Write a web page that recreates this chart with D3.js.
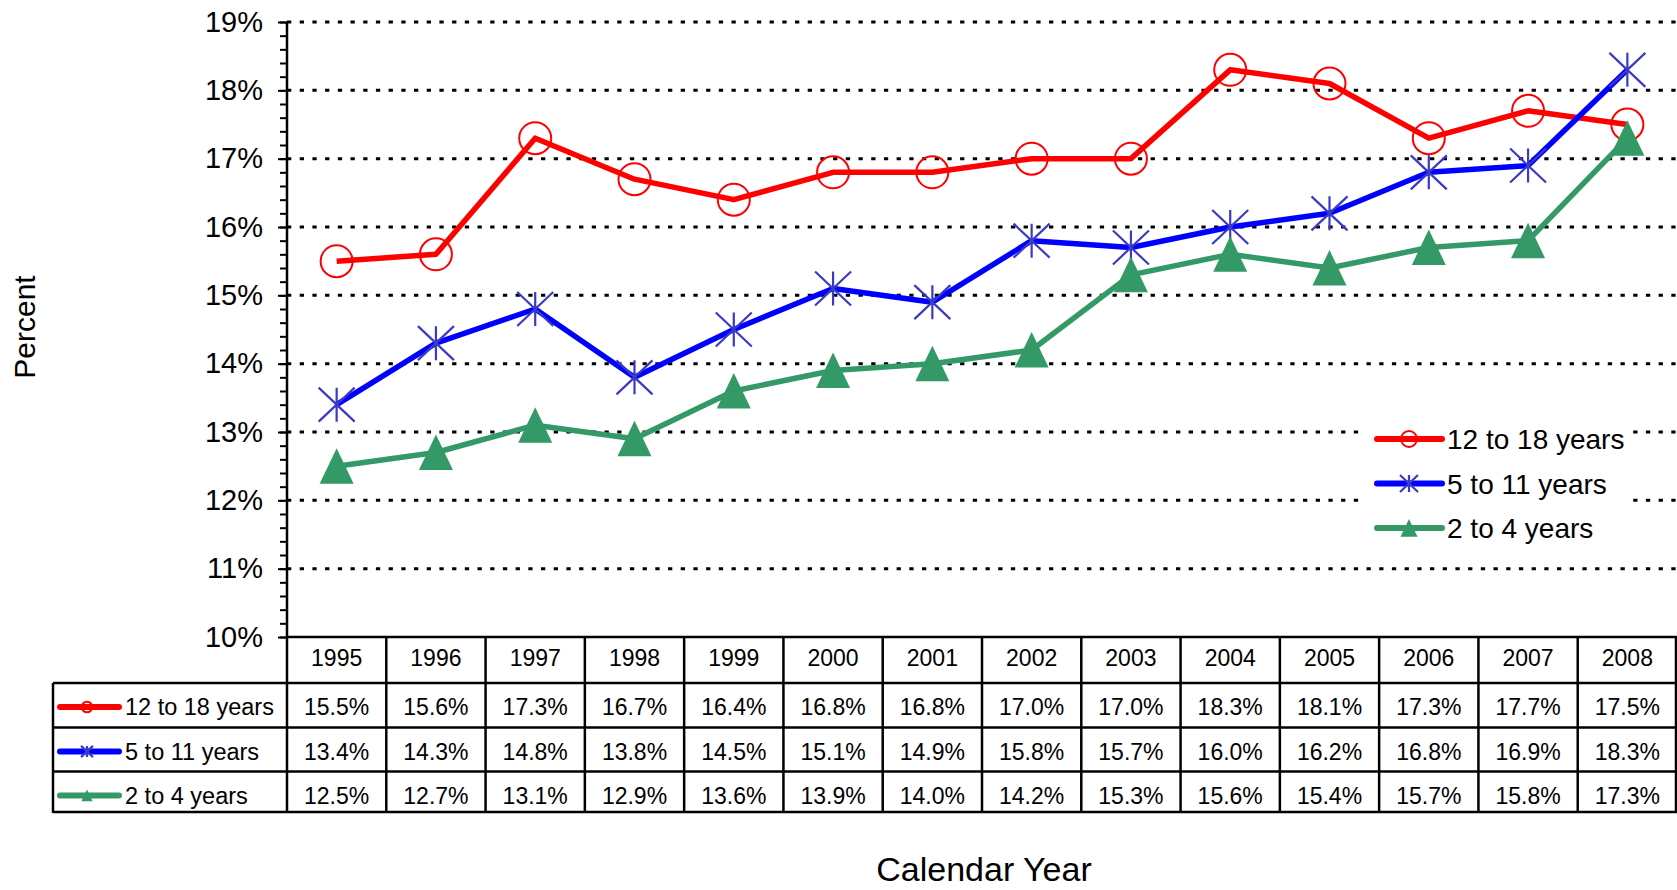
<!DOCTYPE html>
<html>
<head>
<meta charset="utf-8">
<script src="https://cdn.jsdelivr.net/npm/d3@7"></script>
<style>
  body { margin: 0; background: #fff; }
  svg text { font-family: "Liberation Sans", Arial, sans-serif; fill: #000; }
</style>
</head>
<body>
<svg id="chart" width="1677" height="890"></svg>
<script>
// data
var years = [1995, 1996, 1997, 1998, 1999, 2000, 2001, 2002, 2003, 2004, 2005, 2006, 2007, 2008];
var teens = [15.5, 15.6, 17.3, 16.7, 16.4, 16.8, 16.8, 17.0, 17.0, 18.3, 18.1, 17.3, 17.7, 17.5];
var kids = [13.4, 14.3, 14.8, 13.8, 14.5, 15.1, 14.9, 15.8, 15.7, 16.0, 16.2, 16.8, 16.9, 18.3];
var toddlers = [12.5, 12.7, 13.1, 12.9, 13.6, 13.9, 14.0, 14.2, 15.3, 15.6, 15.4, 15.7, 15.8, 17.3];
var seriesNames = ["12 to 18 years", "5 to 11 years", "2 to 4 years"];
var yTicks = [10, 11, 12, 13, 14, 15, 16, 17, 18, 19];

(function () {
  var series = [
    { name: seriesNames[0], values: teens, color: "#ff0000", marker: "circle" },
    { name: seriesNames[1], values: kids, color: "#0000ff", marker: "star" },
    { name: seriesNames[2], values: toddlers, color: "#339966", marker: "triangle" }
  ];

  var svg = d3.select("#chart");
  var plotLeft = 287, plotRight = 1677, plotTop = 22, axisY = 637;

  var x = d3.scaleBand().domain(years).range([plotLeft, plotRight]).padding(0);
  var y = d3.scaleLinear().domain([10, 19]).range([axisY, plotTop]);
  var cx = function (yr) { return x(yr) + x.bandwidth() / 2; };

  // grid lines (dotted)
  svg.append("g").selectAll("line")
    .data(yTicks.slice(1))
    .enter().append("line")
      .attr("x1", plotLeft).attr("x2", plotRight)
      .attr("y1", function (d) { return y(d); })
      .attr("y2", function (d) { return y(d); })
      .attr("stroke", "#000")
      .attr("stroke-width", 3)
      .attr("stroke-dasharray", "4.3,8.4");

  // y axis: minor ticks every 0.2, major every 1
  var minor = d3.range(10, 19.01, 0.2).map(function (d) { return +d.toFixed(1); });
  svg.append("g")
    .attr("transform", "translate(" + plotLeft + ",0)")
    .call(d3.axisLeft(y).tickValues(minor).tickSize(7).tickFormat(""))
    .call(function (g) {
      g.select(".domain").remove();
      g.selectAll("line").attr("stroke", "#000").attr("stroke-width", 2);
    });

  svg.append("g")
    .attr("transform", "translate(" + plotLeft + ",0)")
    .call(d3.axisLeft(y).tickValues(yTicks).tickSize(9).tickPadding(15)
      .tickFormat(function (d) { return d + "%"; }))
    .call(function (g) {
      g.select(".domain").remove();
      g.selectAll("line").attr("stroke", "#000").attr("stroke-width", 2);
      g.selectAll("text")
        .attr("font-size", 29)
        .attr("font-family", "'Liberation Sans', Arial, sans-serif")
        .attr("fill", "#000");
    });

  // y axis line runs down through the table
  svg.append("line")
    .attr("x1", plotLeft).attr("x2", plotLeft)
    .attr("y1", plotTop).attr("y2", 813)
    .attr("stroke", "#000").attr("stroke-width", 2.5);

  // markers
  var drawMarker = function (g, type, color, px, py, s) {
    if (type === "circle") {
      g.append("circle")
        .attr("cx", px).attr("cy", py).attr("r", 16 * s)
        .attr("fill", "none").attr("stroke", color).attr("stroke-width", 2);
    } else if (type === "star") {
      var w = 18 * s, h = 17 * s;
      var path = d3.path();
      path.moveTo(px, py - h); path.lineTo(px, py + h);
      path.moveTo(px - w, py - h); path.lineTo(px + w, py + h);
      path.moveTo(px + w, py - h); path.lineTo(px - w, py + h);
      g.append("path").attr("d", path.toString())
        .attr("stroke", "#3a3ac6").attr("stroke-width", 2.2).attr("fill", "none");
    } else {
      var hw = 17 * s, up = 18 * s, dn = 17.5 * s;
      g.append("path")
        .attr("d", "M" + px + "," + (py - up) + "L" + (px + hw) + "," + (py + dn) + "L" + (px - hw) + "," + (py + dn) + "Z")
        .attr("fill", color);
    }
  };

  // legend inside plot (white box hides grid lines behind it)
  var legend = svg.append("g");
  legend.append("rect")
    .attr("x", 1366).attr("y", 414).attr("width", 266).attr("height", 136)
    .attr("fill", "#fff");
  series.forEach(function (s, i) {
    var ly = 439 + i * 44.5;
    legend.append("line")
      .attr("x1", 1377).attr("x2", 1442).attr("y1", ly).attr("y2", ly)
      .attr("stroke", s.color).attr("stroke-width", 6).attr("stroke-linecap", "round");
    drawMarker(legend, s.marker, s.color, 1409, ly, 0.5);
    legend.append("text")
      .attr("x", 1447).attr("y", ly + 10)
      .attr("font-size", 28)
      .text(s.name);
  });

  var line = d3.line()
    .x(function (d, i) { return cx(years[i]); })
    .y(function (d) { return y(d); });

  series.forEach(function (s) {
    var g = svg.append("g");
    g.append("path")
      .attr("d", line(s.values))
      .attr("fill", "none")
      .attr("stroke", s.color)
      .attr("stroke-width", 5.5)
      .attr("stroke-linejoin", "round");
    s.values.forEach(function (v, i) {
      drawMarker(g, s.marker, s.color, cx(years[i]), y(v), 1);
    });
  });

  // data table
  var table = svg.append("g");
  var rowTops = [683, 727.5, 771.5, 812];
  var fmt = function (v) { return v.toFixed(1) + "%"; };

  // header row
  table.append("line")
    .attr("x1", plotLeft).attr("x2", plotRight).attr("y1", axisY).attr("y2", axisY)
    .attr("stroke", "#000").attr("stroke-width", 2.5);
  table.selectAll(".year")
    .data(years)
    .enter().append("text")
      .attr("x", function (d) { return cx(d); })
      .attr("y", 666)
      .attr("text-anchor", "middle")
      .attr("font-size", 23)
      .text(function (d) { return d; });

  // horizontal rules
  rowTops.forEach(function (ry) {
    table.append("line")
      .attr("x1", 53).attr("x2", plotRight).attr("y1", ry).attr("y2", ry)
      .attr("stroke", "#000").attr("stroke-width", 2.5);
  });
  // vertical rules
  years.slice(1).concat(["end"]).forEach(function (yr) {
    var vx = yr === "end" ? plotRight - 1 : x(yr);
    table.append("line")
      .attr("x1", vx).attr("x2", vx).attr("y1", axisY).attr("y2", 813)
      .attr("stroke", "#000").attr("stroke-width", 2.5);
  });
  table.append("line")
    .attr("x1", 53).attr("x2", 53).attr("y1", rowTops[0]).attr("y2", 813)
    .attr("stroke", "#000").attr("stroke-width", 2.5);

  series.forEach(function (s, i) {
    var base = rowTops[i] + 32;
    var ly = base - 8;
    table.append("line")
      .attr("x1", 60).attr("x2", 119).attr("y1", ly).attr("y2", ly)
      .attr("stroke", s.color).attr("stroke-width", 6).attr("stroke-linecap", "round");
    drawMarker(table, s.marker, s.color, 87, ly, 0.33);
    table.append("text")
      .attr("x", 125).attr("y", base)
      .attr("font-size", 23.5)
      .text(s.name);
    table.selectAll(null)
      .data(s.values)
      .enter().append("text")
        .attr("x", function (d, j) { return cx(years[j]); })
        .attr("y", base)
        .attr("text-anchor", "middle")
        .attr("font-size", 23)
        .text(fmt);
  });

  // axis titles
  svg.append("text")
    .attr("transform", "translate(35,327) rotate(-90)")
    .attr("text-anchor", "middle")
    .attr("font-size", 30)
    .text("Percent");

  svg.append("text")
    .attr("x", 984).attr("y", 881)
    .attr("text-anchor", "middle")
    .attr("font-size", 34)
    .text("Calendar Year");
})();
</script>
</body>
</html>
